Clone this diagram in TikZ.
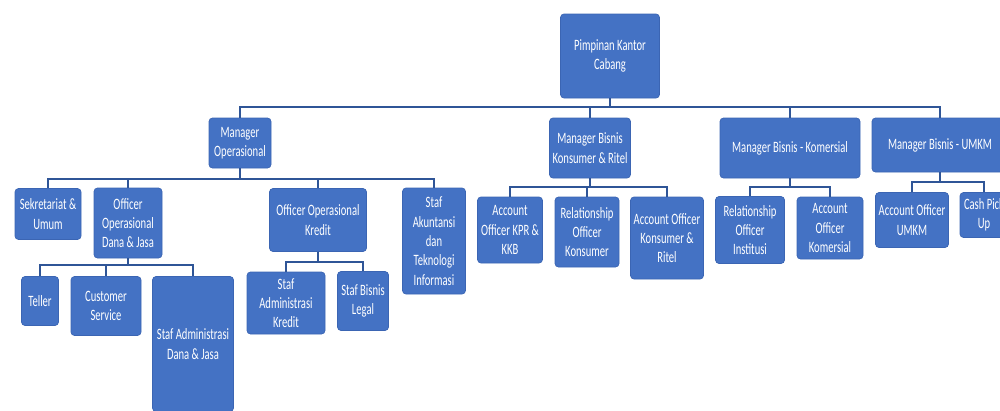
\documentclass[tikz,border=0pt]{standalone}
\usepackage{fontspec}
\setmainfont{Carlito}[FakeStretch=0.67]
\usetikzlibrary{positioning}

\definecolor{unitblue}{HTML}{4472C4}
\definecolor{unitedge}{HTML}{3B65B3}
\definecolor{linkblue}{HTML}{2F5597}

\tikzset{
  unit/.style 2 args={draw=unitedge, fill=unitblue, rounded corners=2pt, text=white,
    align=center, inner sep=1pt, font=\fontsize{9}{11}\selectfont,
    minimum width=#1*0.02cm, minimum height=#2*0.02cm},
  link/.style={draw=linkblue, line width=1.3pt}
}

\begin{document}
\begin{tikzpicture}[x=0.02cm, y=-0.02cm]
  \clip (0,0) rectangle (1000,410);

  % top
  \node[unit={99}{84}] (pkc) at (610,56) {Pimpinan Kantor\\Cabang};

  % managers
  \node[unit={62}{50}] (mo) at (240,143) {Manager\\Operasional};
  \node[unit={81}{60}] (mbk) at (590,148) {Manager Bisnis\\Konsumer \& Ritel};
  \node[unit={140}{60}] (mbkom) at (790,148) {Manager Bisnis - Komersial};
  \node[unit={136}{54}] (mbu) at (940,145) {Manager Bisnis - UMKM};

  % under manager operasional
  \node[unit={66}{51}] (sku) at (48,214) {Sekretariat \&\\Umum};
  \node[unit={68}{70}] (ood) at (128,223) {Officer\\Operasional\\Dana \& Jasa};
  \node[unit={97}{63}] (ook) at (318,220) {Officer Operasional\\Kredit};
  \node[unit={63}{106}] (sakti) at (434,241) {Staf\\Akuntansi\\dan\\Teknologi\\Informasi};

  \node[unit={37}{49}] (teller) at (40,301) {Teller};
  \node[unit={70}{59}] (cs) at (106,306) {Customer\\Service};
  \node[unit={81}{135}] (sadj) at (193,344) {Staf Administrasi\\Dana \& Jasa};
  \node[unit={78}{62}] (sak) at (286,303) {Staf\\Administrasi\\Kredit};
  \node[unit={51}{59}] (sbl) at (363,301) {Staf Bisnis\\Legal};

  % under business managers
  \node[unit={65}{66}] (aokpr) at (510,230) {Account\\Officer KPR \&\\KKB};
  \node[unit={64}{70}] (rok) at (587,232) {Relationship\\Officer\\Konsumer};
  \node[unit={73}{82}] (aokr) at (667,238) {Account Officer\\Konsumer \&\\Ritel};
  \node[unit={69}{67}] (roi) at (750,230) {Relationship\\Officer\\Institusi};
  \node[unit={66}{62}] (aokom) at (830,228) {Account\\Officer\\Komersial};
  \node[unit={73}{55}] (aou) at (912,220) {Account Officer\\UMKM};
  \node[unit={48}{45}] (cpu) at (984,215) {Cash Pick\\Up};

  % bus levels
  \coordinate (bus0) at (0,107);
  \coordinate (busmo) at (0,179);
  \coordinate (busood) at (0,265);
  \coordinate (busook) at (0,262);
  \coordinate (busmbk) at (0,187);
  \coordinate (busmbu) at (0,182);

  % connectors
  \foreach \c in {mo,mbk,mbkom,mbu}
    \draw[link] (pkc.south) -- (pkc.south |- bus0) -| (\c.north);
  \foreach \c in {sku,ood,ook,sakti}
    \draw[link] (mo.south) -- (mo.south |- busmo) -| (\c.north);
  \foreach \c in {teller,cs,sadj}
    \draw[link] (ood.south) -- (ood.south |- busood) -| (\c.north);
  \foreach \c in {sak,sbl}
    \draw[link] (ook.south) -- (ook.south |- busook) -| (\c.north);
  \foreach \c in {aokpr,rok,aokr}
    \draw[link] (mbk.south) -- (mbk.south |- busmbk) -| (\c.north);
  \foreach \c in {roi,aokom}
    \draw[link] (mbkom.south) -- (mbkom.south |- busmbk) -| (\c.north);
  \foreach \c in {aou,cpu}
    \draw[link] (mbu.south) -- (mbu.south |- busmbu) -| (\c.north);
\end{tikzpicture}
\end{document}
